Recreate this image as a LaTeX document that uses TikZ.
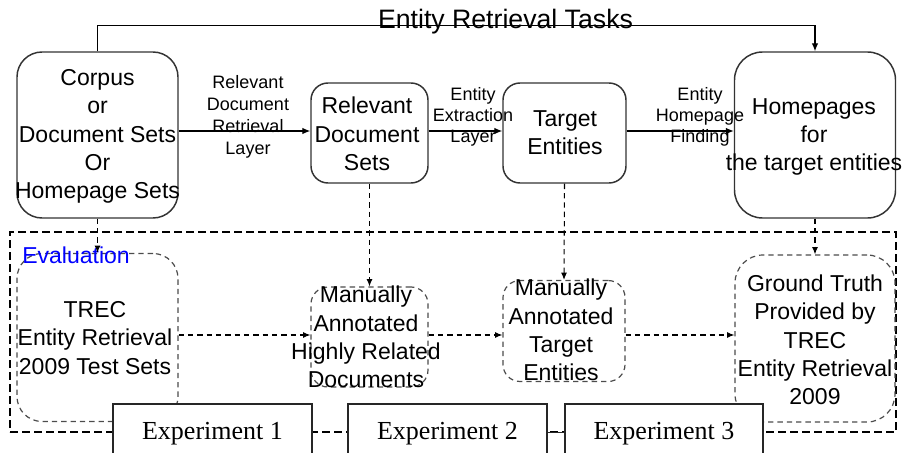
\documentclass[tikz,border=0pt]{standalone}
\usepackage{fontspec}
\setmainfont{Liberation Sans}
\newfontfamily\expfont{Liberation Serif}
\usetikzlibrary{arrows.meta}
\newcommand\pxu[1]{#1*0.75pt}
\begin{document}
\begin{tikzpicture}[x=0.75pt,y=-0.75pt,
  solidbox/.style={draw=black!80, line width=1.1pt, rounded corners=#1, inner sep=0pt},
  solidbox/.default=13pt,
  dashbox/.style={draw=black!70, line width=0.9pt, dash pattern=on 4pt off 3pt, rounded corners=#1, inner sep=0pt},
  dashbox/.default=13pt,
  boxtext/.style={align=center, inner sep=0pt, font=\fontsize{17.25}{21.2}\selectfont},
  lbltext/.style={align=center, inner sep=0pt, font=\fontsize{13.5}{#1}\selectfont},
  lbltext/.default=15.5pt,
  arr/.style={draw=black, line width=0.9pt, -{Latex[length=6pt,width=5pt]}},
  darr/.style={draw=black, line width=0.8pt, dash pattern=on 4pt off 3pt, -{Latex[length=5.5pt,width=4.5pt]}},
  expbox/.style={draw=black!85, line width=0.9pt, fill=white, inner sep=0pt, minimum width=\pxu{199}, minimum height=\pxu{60}, font=\expfont\fontsize{19.5}{22}\selectfont}
]
\useasboundingbox (0,0) rectangle (907,453);
\clip (0,0) rectangle (907,453);

% coordinates for connector heights
\coordinate (topline) at (0,25.5);
\coordinate (sy) at (0,131);
\coordinate (hy) at (0,335);

% title
\node[anchor=base, inner sep=0pt, font=\fontsize{20}{23}\selectfont] (title) at (505.5,29) {Entity Retrieval Tasks};

% upper boxes
\node[solidbox=\pxu{25}, minimum width=\pxu{161}, minimum height=\pxu{166}] (corpus) at (97.5,135) {};
\node[boxtext] (corpusT) at (97.5,136.5) {Corpus\\or\\Document Sets\\Or\\Homepage Sets};

\node[solidbox=\pxu{17}, minimum width=\pxu{117}, minimum height=\pxu{100}] (rds) at (369.5,133) {};
\node[boxtext] (rdsT) at (367,134) {Relevant\\Document\\Sets};

\node[solidbox=\pxu{17}, minimum width=\pxu{123}, minimum height=\pxu{100}] (te) at (564.5,133) {};
\node[boxtext] (teT) at (565,133) {Target\\Entities};

\node[solidbox=\pxu{28}, minimum width=\pxu{161}, minimum height=\pxu{166}] (home) at (815,135) {};
\node[boxtext] (homeT) at (814,137) {Homepages\\for\\the target entities};

% top connector
\draw[arr] (corpus.north) -- (corpus.north |- topline) -| (home.north);

% solid arrows and labels
\draw[arr] (corpus.east |- sy) -- (rds.west |- sy);
\draw[arr] (rds.east |- sy) -- (te.west |- sy);
\draw[arr] (te.east |- sy) -- (home.west |- sy);
\node[lbltext=16.5pt] (l1) at (248,117) {Relevant\\Document\\Retrieval\\Layer};
\node[lbltext] (l2) at (473,117) {Entity\\Extraction\\Layer};
\node[lbltext] (l3) at (700,117) {Entity\\Homepage\\Finding};

% evaluation frame
\node[draw=black, line width=0.9pt, dash pattern=on 6pt off 3pt, inner sep=0pt, minimum width=\pxu{886}, minimum height=\pxu{200}] (eval) at (453,332) {};

% lower dashed boxes
\node[dashbox=\pxu{25}, minimum width=\pxu{161}, minimum height=\pxu{168}] (trec) at (97.5,337.5) {};
\node[boxtext] (trecT) at (95,338) {TREC\\Entity Retrieval\\2009 Test Sets};

\node[dashbox=\pxu{17}, minimum width=\pxu{117}, minimum height=\pxu{100}] (mahrd) at (369.5,337) {};
\node[boxtext] (mahrdT) at (366,337) {Manually\\Annotated\\Highly Related\\Documents};

\node[dashbox=\pxu{17}, minimum width=\pxu{122}, minimum height=\pxu{101}] (mate) at (564,331) {};
\node[boxtext] (mateT) at (561,330) {Manually\\Annotated\\Target\\Entities};

\node[dashbox=\pxu{28}, minimum width=\pxu{160}, minimum height=\pxu{167}] (gt) at (815,338.5) {};
\node[boxtext] (gtT) at (815,340) {Ground Truth\\Provided by\\TREC\\Entity Retrieval\\2009};

\node[inner sep=0pt, text=blue, font=\fontsize{17.25}{21}\selectfont] (evalT) at (76,255) {Evaluation};

% dashed arrows
\draw[darr] (corpus.south) -- (trec.north);
\draw[darr] (rds.south) -- (mahrd.north);
\draw[darr] (te.south) -- (mate.north);
\draw[darr] (home.south) -- (gt.north);
\draw[darr] (trec.east |- hy) -- (mahrd.west |- hy);
\draw[darr] (mahrd.east |- hy) -- (mate.west |- hy);
\draw[darr] (mate.east |- hy) -- (gt.west |- hy);

% experiment boxes
\node[expbox] (exp1) at (212.5,434) {Experiment 1};
\node[expbox] (exp2) at (447.5,434) {Experiment 2};
\node[expbox, minimum width=\pxu{198}] (exp3) at (664,434) {Experiment 3};
\draw[black!85, line width=0.9pt] (exp2.east |- eval.south) -- (exp3.west |- eval.south);
\end{tikzpicture}
\end{document}
